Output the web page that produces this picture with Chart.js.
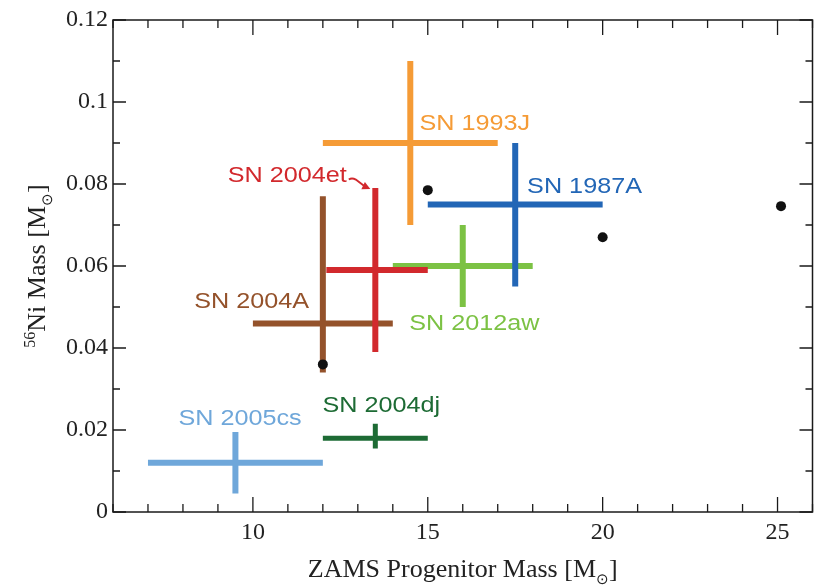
<!DOCTYPE html>
<html><head><meta charset="utf-8">
<script src="https://cdn.jsdelivr.net/npm/chart.js@4.4.1/dist/chart.umd.min.js"></script>
<style>html,body{margin:0;padding:0;background:#fff;}#wrap{width:814px;height:586px;}</style>
</head><body><div id="wrap"><canvas id="c" width="814" height="586"></canvas></div>
<script>
// ---- data ----
const snNames   = ['SN 1993J','SN 1987A','SN 2004et','SN 2004A','SN 2012aw','SN 2004dj','SN 2005cs'];
const massCenter = [14.5, 17.5, 13.5, 12.0, 16.0, 13.5, 9.5];
const massLow    = [12.0, 15.0, 12.1, 10.0, 14.0, 12.0, 7.0];
const massHigh   = [17.0, 20.0, 15.0, 14.0, 18.0, 15.0, 12.0];
const niCenter   = [0.090, 0.075, 0.059, 0.046, 0.060, 0.018, 0.012];
const niLow      = [0.070, 0.055, 0.039, 0.034, 0.050, 0.0155, 0.0045];
const niHigh     = [0.110, 0.090, 0.079, 0.077, 0.070, 0.0215, 0.0195];
const modelMass  = [12, 15, 20, 25.1];
const modelNi    = [0.036, 0.0785, 0.067, 0.0746];
const xTickStep = 1, xMajorEvery = 5;
const yTickStep = 0.01;

// ---- styles ----
const snColors = ['#F59B36','#2266B6','#D2292D','#94522B','#7CC244','#1D6B34','#6FA7DA'];
const snLine   = [6,6,6,6,6,5,6];
const snOrder  = [2,2,3,6,5,2,2];
// label anchors (data units, left/baseline)
const labelX = [14.76, 17.84, 9.28, 8.32, 14.47, 11.99, 7.87];
const labelY = [0.0932, 0.0778, 0.0806, 0.0497, 0.0444, 0.0245, 0.0212];

const datasets = [];
snNames.forEach((n,i)=>{
  const base = {showLine:true, borderColor:snColors[i], borderWidth:snLine[i], pointRadius:0,
    borderCapStyle:'butt', fill:false, order:snOrder[i]};
  datasets.push(Object.assign({label:n+' mass', data:[{x:massLow[i],y:niCenter[i]},{x:massHigh[i],y:niCenter[i]}]}, base));
  datasets.push(Object.assign({label:n+' Ni', data:[{x:massCenter[i],y:niLow[i]},{x:massCenter[i],y:niHigh[i]}]}, base));
});
datasets.push({label:'models', data:modelMass.map((m,i)=>({x:m,y:modelNi[i]})), showLine:false,
  pointRadius:5, pointBackgroundColor:'#111', pointBorderWidth:0, order:-1});

function richText(ctx, segs, cx, cy){
  let w=0;
  segs.forEach(s=>{ctx.font=s.size+'px "Liberation Serif"'; w+=ctx.measureText(s.t).width;});
  let x=cx-w/2;
  segs.forEach(s=>{ctx.font=s.size+'px "Liberation Serif"'; ctx.fillText(s.t,x,cy+(s.dy||0)); x+=ctx.measureText(s.t).width;});
}

const deco = {
  id:'deco',
  afterDatasetsDraw(chart){
    const {ctx, scales:{x,y}} = chart;
    ctx.save();
    snNames.forEach((n,i)=>{
      const px=x.getPixelForValue(labelX[i]), py=y.getPixelForValue(labelY[i]);
      ctx.save(); ctx.translate(px,py); ctx.scale(1.12,1);
      ctx.font='22.5px "Liberation Sans"'; ctx.fillStyle=snColors[i]; ctx.textBaseline='alphabetic';
      ctx.fillText(n,0,0);
      const w=ctx.measureText(n).width;
      ctx.restore();
      if(i===2){
        const sx=px+w*1.12+2, sy=py-3;
        const tx=x.getPixelForValue(massCenter[2])-5, ty=y.getPixelForValue(niHigh[2])+1;
        const ang=Math.atan2(ty-sy,tx-sx);
        ctx.strokeStyle=snColors[2]; ctx.lineWidth=2;
        ctx.beginPath(); ctx.moveTo(sx,sy+1); ctx.quadraticCurveTo(sx+3,sy-1,sx+7,sy+1);
        ctx.lineTo(tx-6*Math.cos(ang),ty-6*Math.sin(ang)); ctx.stroke();
        ctx.fillStyle=snColors[2];
        ctx.beginPath(); ctx.moveTo(tx,ty);
        ctx.lineTo(tx-8*Math.cos(ang)+4*Math.sin(ang), ty-8*Math.sin(ang)-4*Math.cos(ang));
        ctx.lineTo(tx-8*Math.cos(ang)-4*Math.sin(ang), ty-8*Math.sin(ang)+4*Math.cos(ang));
        ctx.closePath(); ctx.fill();
      }
    });
    ctx.restore();
  },
  afterDraw(chart){
    const {ctx, chartArea:a, scales:{x,y}} = chart;
    ctx.save();
    ctx.strokeStyle='#1a1a1a'; ctx.lineWidth=1.5;
    ctx.strokeRect(a.left,a.top,a.right-a.left,a.bottom-a.top);
    ctx.lineWidth=1.3;
    ctx.beginPath();
    x.ticks.forEach(t=>{
      const p=x.getPixelForValue(t.value); const L=(t.label!=='')?15:8;
      ctx.moveTo(p,a.bottom); ctx.lineTo(p,a.bottom-L);
      ctx.moveTo(p,a.top); ctx.lineTo(p,a.top+L);
    });
    y.ticks.forEach(t=>{
      const p=y.getPixelForValue(t.value); const L=(t.label!=='')?13:7;
      ctx.moveTo(a.left,p); ctx.lineTo(a.left+L,p);
      ctx.moveTo(a.right,p); ctx.lineTo(a.right-L,p);
    });
    ctx.stroke();
    ctx.fillStyle='#222'; ctx.textBaseline='alphabetic';
    richText(ctx,[{t:'ZAMS Progenitor Mass [M',size:26},{t:'\u2299',size:15,dy:7},{t:']',size:26}],(a.left+a.right)/2,577);
    ctx.translate(45,(a.top+a.bottom)/2); ctx.rotate(-Math.PI/2);
    richText(ctx,[{t:'56',size:16,dy:-10},{t:'Ni Mass [M',size:26},{t:'\u2299',size:15,dy:7},{t:']',size:26}],0,0);
    ctx.restore();
  }
};

new Chart(document.getElementById('c'),{
  type:'scatter',
  data:{datasets},
  options:{
    responsive:false, devicePixelRatio:1, animation:false, events:[],
    layout:{autoPadding:false, padding:{top:20,right:1.5,left:0,bottom:0}},
    plugins:{legend:{display:false},tooltip:{enabled:false}},
    scales:{
      x:{type:'linear',min:6,max:26,
        grid:{display:true,drawOnChartArea:false,drawTicks:true,tickLength:6,color:'rgba(0,0,0,0)'},
        border:{display:false},
        ticks:{stepSize:xTickStep,autoSkip:false,maxRotation:0,padding:0,color:'#222',
          font:{family:'"Liberation Serif"',size:24},
          callback:v=>(Math.round(v)%xMajorEvery===0)?String(Math.round(v)):''},
        afterFit:s=>{s.height=74;}},
      y:{type:'linear',min:0,max:0.12,
        grid:{display:false,drawTicks:false}, border:{display:false},
        ticks:{stepSize:yTickStep,autoSkip:false,padding:5,color:'#222',
          font:{family:'"Liberation Serif"',size:24},
          callback:v=>{const k=Math.round(v*100);return k%2===0?String(k/100):'';}},
        afterFit:s=>{s.width=113;}}
    }
  },
  plugins:[deco]
});
</script></body></html>
